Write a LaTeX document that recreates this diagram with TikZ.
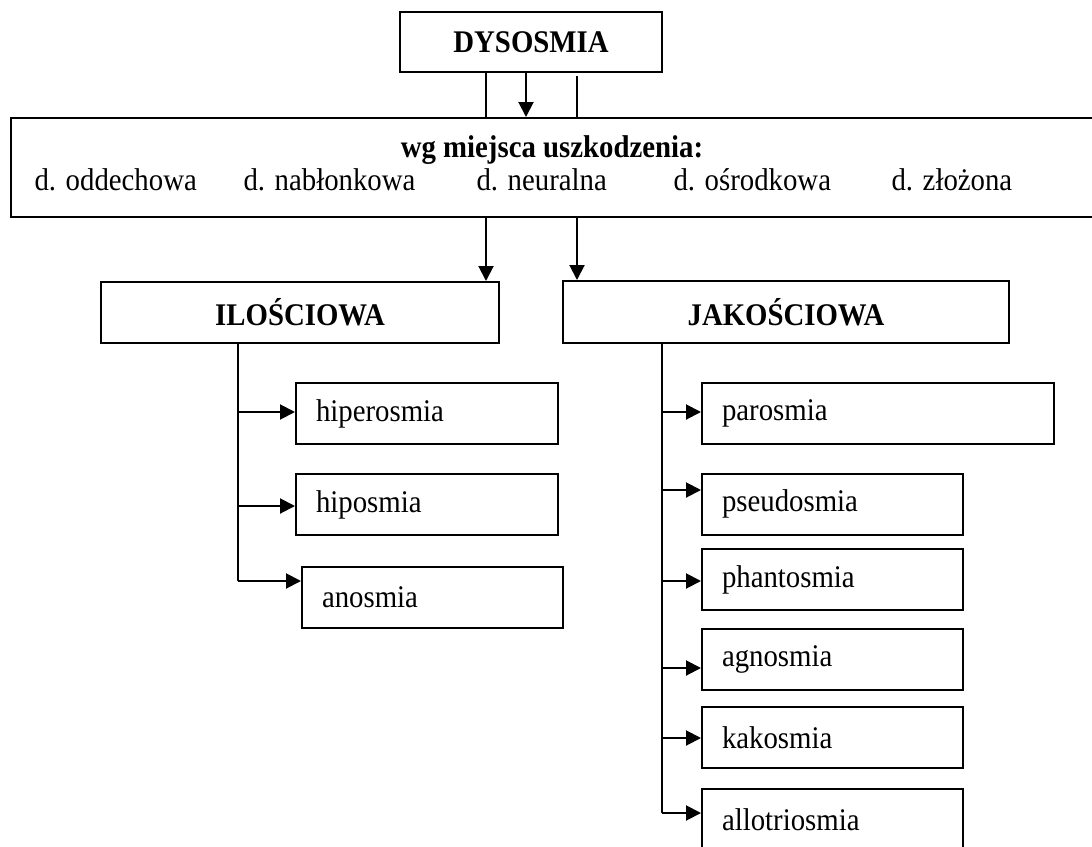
\documentclass[tikz,border=0pt]{standalone}
\usepackage{fontspec}
\setmainfont{Liberation Serif}[FakeStretch=0.914]
\usetikzlibrary{positioning, arrows.meta}

\begin{document}
\begin{tikzpicture}[x=1pt,y=-1pt,
    every node/.style={font=\fontsize{31.5}{36}\selectfont},
    box/.style={draw,rectangle,line width=2pt,inner sep=0pt},
    head/.style={box,font=\fontsize{31.5}{36}\selectfont\bfseries,minimum height=61pt},
    leaf/.style={box,minimum height=61pt,inner xsep=20pt,text width=#1,align=left},
    line/.style={line width=2pt},
    arr/.style={line,-{Triangle[length=15pt,width=15pt]}}
  ]
  \useasboundingbox (0,0) rectangle (1092,846);

  % top
  \node[head,minimum width=262pt,minimum height=60pt] (dys) at (531,42) {DYSOSMIA};
  \node[box,minimum width=1089pt,minimum height=99pt] (main) at (555.5,167.5) {};
  \node[anchor=base,font=\fontsize{31.5}{36}\selectfont\bfseries] (wg) at (552,157) {wg miejsca uszkodzenia:};
  \foreach \t/\x [count=\i] in {d. oddechowa/31, d. nabłonkowa/240, d. neuralna/473, d. ośrodkowa/670, d. złożona/888}
    \node[anchor=base west] (d\i) at (\x,190) {\t};

  % two groups
  \node[head,minimum width=398pt] (ilo) at (300,312.5) {ILOŚCIOWA};
  \node[head,minimum width=446pt,minimum height=62pt] (jak) at (786,312) {JAKOŚCIOWA};

  \node[leaf=222pt] (hiper) at (427,413.5) {hiperosmia};
  \node[leaf=222pt] (hipo) at (427,504.5) {hiposmia};
  \node[leaf=221pt] (anos) at (432.5,597.5) {anosmia};

  \node[leaf=312pt] (paro) at (878,413.5) {parosmia};
  \node[leaf=221pt] (pseudo) at (832.5,504) {pseudosmia};
  \node[leaf=221pt] (phanto) at (832.5,579.5) {phantosmia};
  \node[leaf=221pt] (agno) at (832.5,659) {agnosmia};
  \node[leaf=221pt] (kako) at (832.5,737.5) {kakosmia};
  \node[leaf=221pt] (allo) at (832.5,819.5) {allotriosmia};

  % connectors
  \coordinate (cL) at (486,0);
  \coordinate (cM) at (526,0);
  \coordinate (cR) at (577,0);
  \coordinate (tL) at (238,0);
  \coordinate (tR) at (662,0);

  \draw[line] (dys.south -| cL) -- (main.north -| cL);
  \draw[arr] (dys.south -| cM) -- (main.north -| cM);
  \draw[line,shorten <=3pt] (dys.south -| cR) -- (main.north -| cR);
  \draw[arr] (main.south -| cL) -- (ilo.north -| cL);
  \draw[arr] (main.south -| cR) -- (jak.north -| cR);

  \foreach \n/\d in {hiper/-1.5, hipo/1.5, anos/-16.5}{
    \path (\n.west) ++(0,\d) coordinate (in-\n);
    \draw[arr] (in-\n -| tL) -- (in-\n);
  }
  \draw[line] (ilo.south -| tL) -- (in-anos -| tL);

  \foreach \n/\d in {paro/-1.5, pseudo/-14, phanto/1.5, agno/9, kako/0.5, allo/-6.5}{
    \path (\n.west) ++(0,\d) coordinate (in-\n);
    \draw[arr] (in-\n -| tR) -- (in-\n);
  }
  \draw[line] (jak.south -| tR) -- (in-allo -| tR);
\end{tikzpicture}
\end{document}
